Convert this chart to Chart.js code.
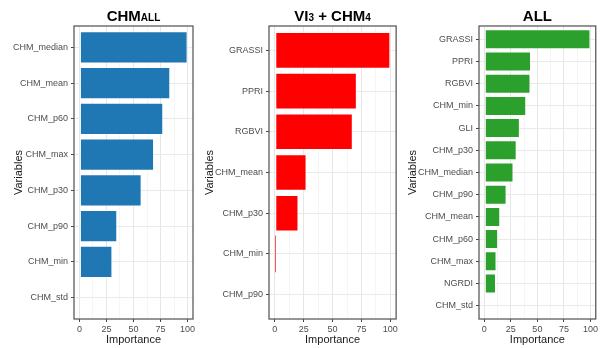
<!DOCTYPE html>
<html>
<head>
<meta charset="utf-8">
<script src="https://cdn.jsdelivr.net/npm/chart.js@4/dist/chart.umd.min.js"></script>
<style>
  html, body { margin: 0; padding: 0; background: #ffffff; }
  #wrap { position: relative; width: 600px; height: 348px; }
  #wrap canvas { position: absolute; top: 0; }
</style>
</head>
<body>
<div id="wrap">
  <canvas id="c1" width="200" height="348" style="left:0px"></canvas>
  <canvas id="c2" width="200" height="348" style="left:200px"></canvas>
  <canvas id="c3" width="200" height="348" style="left:400px"></canvas>
</div>
<script>
// Variable importance, canopy height metrics only
const chmAllVars = ['CHM_median', 'CHM_mean', 'CHM_p60', 'CHM_max', 'CHM_p30', 'CHM_p90', 'CHM_min', 'CHM_std'];
const chmAllImportance = [100, 84, 77.5, 69, 57.5, 35, 30.5, 0];

// Variable importance, three vegetation indices + four canopy height metrics
const viChmVars = ['GRASSI', 'PPRI', 'RGBVI', 'CHM_mean', 'CHM_p30', 'CHM_min', 'CHM_p90'];
const viChmImportance = [100, 71, 67.5, 27.5, 20.5, 1, 0];

// Variable importance, all predictors
const allVars = ['GRASSI', 'PPRI', 'RGBVI', 'CHM_min', 'GLI', 'CHM_p30', 'CHM_median', 'CHM_p90', 'CHM_mean', 'CHM_p60', 'CHM_max', 'NGRDI', 'CHM_std'];
const allImportance = [100, 44, 43.5, 39.5, 33.5, 30.5, 27.5, 21, 15, 13, 11.5, 11, 0];

const importanceTicks = [0, 25, 50, 75, 100];
const importanceMinorTicks = [12.5, 37.5, 62.5, 87.5];

const FONT = "'Liberation Sans', Arial, sans-serif";

// Panel border and the title (main text + smaller trailing parts on the same baseline)
const panelDecor = {
  id: 'panelDecor',
  afterDraw(chart, args, opts) {
    const { ctx, chartArea: a } = chart;
    ctx.save();
    ctx.strokeStyle = '#5c5c5c';
    ctx.lineWidth = 1.3;
    ctx.strokeRect(a.left, a.top, a.right - a.left, a.bottom - a.top);

    const parts = opts.parts || [];
    let total = 0;
    const widths = parts.map(p => {
      ctx.font = `bold ${p.size}px ${FONT}`;
      const w = ctx.measureText(p.text).width;
      total += w;
      return w;
    });
    let x = (a.left + a.right) / 2 - total / 2;
    ctx.fillStyle = '#000000';
    ctx.textBaseline = 'alphabetic';
    ctx.textAlign = 'left';
    parts.forEach((p, i) => {
      ctx.font = `bold ${p.size}px ${FONT}`;
      ctx.fillText(p.text, x, 21);
      x += widths[i];
    });
    ctx.restore();
  }
};

function makePanel(canvasId, vars, values, color, titleParts, geom) {
  const n = vars.length;
  return new Chart(document.getElementById(canvasId), {
    type: 'bar',
    data: {
      datasets: [{
        data: values.map((v, i) => ({ x: v, y: i })),
        backgroundColor: color,
        borderColor: 'rgba(255,255,255,0.45)',
        borderWidth: ctx => (ctx.raw && ctx.raw.x < 3) ? 0 : 1,
        borderSkipped: false,
        barPercentage: 0.9,
        categoryPercentage: 1.0
      }]
    },
    options: {
      indexAxis: 'y',
      responsive: false,
      animation: false,
      layout: { padding: { top: 26, right: geom.padRight, bottom: 0, left: 0 } },
      plugins: {
        legend: { display: false },
        tooltip: { enabled: false },
        title: { display: false },
        panelDecor: { parts: titleParts }
      },
      scales: {
        x: {
          type: 'linear',
          position: 'bottom',
          min: -5,
          max: 105,
          offset: false,
          afterBuildTicks: s => {
            s.ticks = importanceTicks.concat(importanceMinorTicks)
              .sort((a, b) => a - b)
              .map(v => ({ value: v }));
          },
          afterFit: s => { s.height = 29; },
          border: { display: false },
          grid: {
            offset: false,
            color: ctx => (ctx.tick && importanceTicks.includes(ctx.tick.value)) ? '#e6e6e6' : '#f1f1f1',
            lineWidth: ctx => (ctx.tick && importanceTicks.includes(ctx.tick.value)) ? 1 : 0.7,
            tickColor: ctx => (ctx.tick && importanceTicks.includes(ctx.tick.value)) ? '#444444' : 'rgba(0,0,0,0)',
            tickLength: 3,
            tickWidth: 1
          },
          ticks: {
            autoSkip: false,
            maxRotation: 0,
            padding: 2,
            color: '#4d4d4d',
            font: { family: FONT, size: 9 },
            callback: v => importanceTicks.includes(v) ? String(v) : ''
          },
          title: {
            display: true,
            text: 'Importance',
            color: '#1a1a1a',
            font: { family: FONT, size: 11 },
            padding: { top: 0, bottom: 1 }
          }
        },
        y: {
          type: 'linear',
          position: 'left',
          reverse: true,
          offset: false,
          min: -0.6,
          max: n - 1 + 0.6,
          afterBuildTicks: s => { s.ticks = vars.map((_, i) => ({ value: i })); },
          afterFit: s => { s.width = geom.left; },
          border: { display: false },
          grid: {
            offset: false,
            color: '#e9e9e9',
            lineWidth: 1,
            tickColor: '#444444',
            tickLength: 3,
            tickWidth: 1
          },
          ticks: {
            autoSkip: false,
            padding: 3,
            color: '#4d4d4d',
            font: { family: FONT, size: 9 },
            callback: v => vars[v] !== undefined ? vars[v] : ''
          },
          title: {
            display: true,
            text: 'Variables',
            color: '#1a1a1a',
            font: { family: FONT, size: 11 },
            padding: { top: geom.titlePad, bottom: 0 }
          }
        }
      }
    },
    plugins: [panelDecor]
  });
}

makePanel('c1', chmAllVars, chmAllImportance, '#1f77b4',
  [{ text: 'CHM', size: 15 }, { text: 'ALL', size: 10 }],
  { left: 74, padRight: 7, titlePad: 12 });

makePanel('c2', viChmVars, viChmImportance, '#ff0000',
  [{ text: 'VI', size: 15 }, { text: '3', size: 10 }, { text: ' + CHM', size: 15 }, { text: '4', size: 10 }],
  { left: 69, padRight: 3, titlePad: 3.5 });

makePanel('c3', allVars, allImportance, '#2ca02c',
  [{ text: 'ALL', size: 15 }],
  { left: 79, padRight: 1, titlePad: 6 });
</script>
</body>
</html>
